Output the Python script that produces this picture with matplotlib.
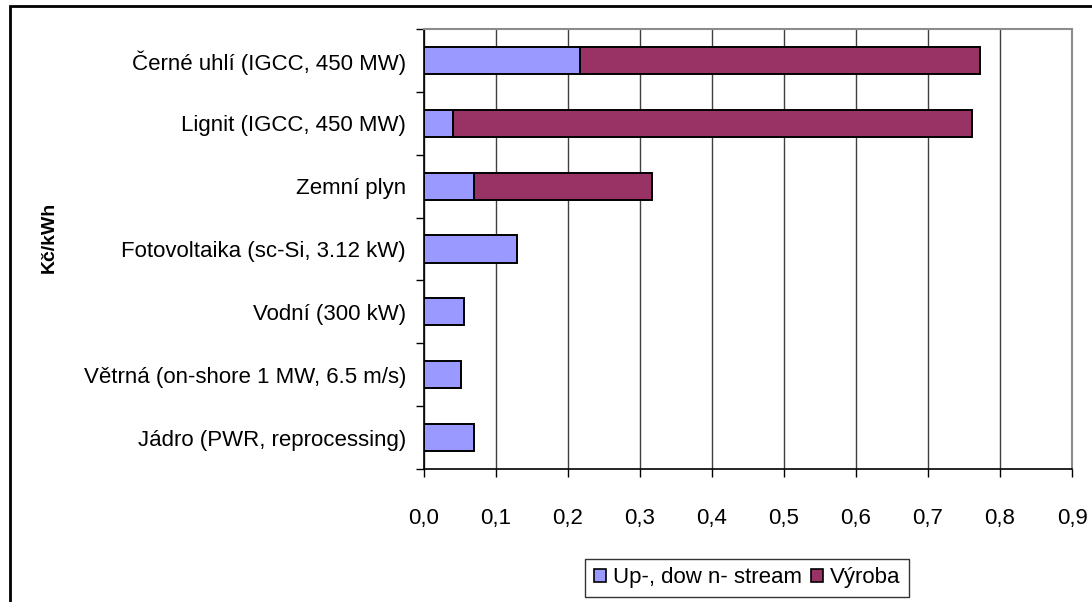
import numpy as np
import matplotlib

matplotlib.use("Agg")
import matplotlib.pyplot as plt
from matplotlib.patches import Rectangle, Patch

plt.rcParams["font.family"] = ["Liberation Sans", "DejaVu Sans"]

categories = [
    "Černé uhlí (IGCC, 450 MW)",
    "Lignit (IGCC, 450 MW)",
    "Zemní plyn",
    "Fotovoltaika (sc-Si, 3.12 kW)",
    "Vodní (300 kW)",
    "Větrná (on-shore 1 MW, 6.5 m/s)",
    "Jádro (PWR, reprocessing)",
]
upstream = [0.217, 0.040, 0.069, 0.129, 0.055, 0.052, 0.069]
vyroba = [0.555, 0.721, 0.248, 0.0, 0.0, 0.0, 0.0]
xticks = [0.0, 0.1, 0.2, 0.3, 0.4, 0.5, 0.6, 0.7, 0.8, 0.9]
xticklabels = ["0,0", "0,1", "0,2", "0,3", "0,4", "0,5", "0,6", "0,7", "0,8", "0,9"]
series_names = ["Up-, dow n- stream", "Výroba"]

BLUE = "#9999ff"
WINE = "#993366"
FS = 16

W, H = 1092, 602
fig = plt.figure(figsize=(W / 100, H / 100), dpi=100)
ax = fig.add_axes([424 / W, 1 - 469 / H, (1072 - 424) / W, (469 - 29) / H])

y = np.arange(len(categories))
bh = 0.43
ax.barh(y, upstream, height=bh, color=BLUE, edgecolor="black", linewidth=1.4, zorder=3)
mask = np.array(vyroba) > 0
ax.barh(y[mask], np.array(vyroba)[mask], left=np.array(upstream)[mask], height=bh,
        color=WINE, edgecolor="black", linewidth=1.4, zorder=3)

ax.set_xlim(0, 0.9)
ax.set_ylim(len(categories) - 0.5, -0.5)
ax.set_xticks(xticks)
ax.set_xticklabels(xticklabels, fontsize=FS)
ax.set_yticks(y)
ax.set_yticklabels(categories, fontsize=FS)
ax.tick_params(axis="y", length=0, pad=13)
# category separators as outward ticks on the left axis
ax.set_yticks(np.arange(-0.5, len(categories)), minor=True)
ax.tick_params(axis="y", which="minor", length=6, width=1, direction="out")
ax.tick_params(axis="x", length=6, width=1, direction="out", pad=22)

ax.grid(axis="x", color="#404040", linewidth=1, zorder=0)
for side in ("top", "right"):
    ax.spines[side].set_color("#8c8c8c")
    ax.spines[side].set_linewidth(1.5)
for side in ("left", "bottom"):
    ax.spines[side].set_color("black")
    ax.spines[side].set_linewidth(1.2)

fig.text(49 / W, 1 - 237 / H, "Kč/kWh", rotation=90, fontsize=14, fontweight="bold",
         ha="center", va="center")

handles = [Patch(facecolor=BLUE, edgecolor="black", linewidth=1.2),
           Patch(facecolor=WINE, edgecolor="black", linewidth=1.2)]
leg = fig.legend(handles, series_names, loc="center",
                 bbox_to_anchor=(747 / W, 1 - 578 / H), ncol=2, fontsize=FS,
                 frameon=True, fancybox=False, handlelength=0.55, handleheight=0.55,
                 handletextpad=0.3, columnspacing=0.4, borderpad=0.4)
leg.get_frame().set_edgecolor("black")
leg.get_frame().set_linewidth(1)

# outer chart border
fig.patches.append(Rectangle((10 / W, -0.05), 1.2, 1 - 6 / H + 0.05,
                             transform=fig.transFigure, fill=False,
                             edgecolor="black", linewidth=2))

fig.savefig("out.png", dpi=100)
